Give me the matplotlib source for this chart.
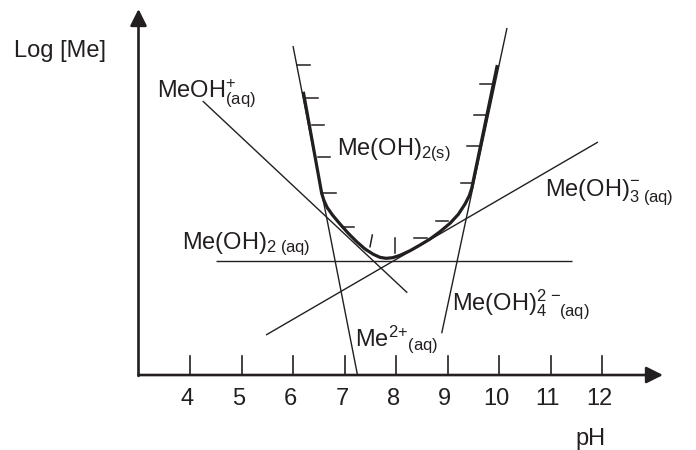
import matplotlib
matplotlib.use("Agg")
import matplotlib.pyplot as plt
import numpy as np

plt.rcParams['font.family'] = ['Liberation Sans', 'DejaVu Sans']
plt.rcParams['mathtext.fontset'] = 'custom'
plt.rcParams['mathtext.rm'] = 'Liberation Sans'
plt.rcParams['mathtext.it'] = 'Liberation Sans:italic'
plt.rcParams['mathtext.bf'] = 'Liberation Sans:bold'

# ---- data (pH, log[Me] in arbitrary units) ----
ph_ticks = [4, 5, 6, 7, 8, 9, 10, 11, 12]
tick_labels = ['4', '5', '6', '7', '8', '9', '10', '11', '12']

me2_ph = [6.00, 7.252]
me2_log = [6.388, 0.0]
meoh_ph = [4.247, 8.219]
meoh_log = [5.320, 1.598]
meoh3_ph = [5.476, 11.922]
meoh3_log = [0.777, 4.524]
meoh2aq_ph = [4.505, 11.423]
meoh2aq_log = [2.223, 2.223]
meoh4_ph = [8.887, 10.155]
meoh4_log = [0.810, 6.738]

# solubility curve of Me(OH)2(s)
sol_ph = [6.200, 6.557, 6.602, 6.666, 6.771, 6.913, 7.074, 7.237, 7.398, 7.559, 7.689,
          7.806, 7.936, 8.078, 8.272, 8.466, 8.660, 8.854, 9.049, 9.210, 9.340, 9.423,
          9.470, 9.967]
sol_log = [5.501, 3.528, 3.384, 3.249, 3.101, 2.932, 2.751, 2.588, 2.447, 2.344, 2.285,
           2.266, 2.278, 2.324, 2.414, 2.524, 2.641, 2.783, 2.946, 3.120, 3.320, 3.482,
           3.625, 6.019]

# hatch marks of the solid region
hatch_left_ph = [6.083, 6.233, 6.363, 6.480, 6.588, 6.946]
hatch_left_log = [6.019, 5.384, 4.854, 4.227, 3.534, 2.880]
hatch_right_ph = [8.596, 9.016, 9.501, 9.631, 9.748, 9.878]
hatch_right_log = [2.654, 2.996, 3.722, 4.447, 5.043, 5.645]
hatch_mid = [((7.495, 2.491), (7.540, 2.718)), ((7.981, 2.375), (7.981, 2.654))]

INK = '#231f20'
FS = 17

fig = plt.figure(figsize=(6.96, 4.50), dpi=100)
ax = fig.add_axes([0, 0, 1, 1])
ax.set_xlim(0.3107, 13.825)
ax.set_ylim(-1.456, 7.282)
ax.axis('off')

# axes with arrows
ax.annotate('', xy=(13.184, 0), xytext=(3.0, 0),
            arrowprops=dict(arrowstyle='-|>,head_length=1.0,head_width=0.5', lw=1.9,
                            color=INK, mutation_scale=10, shrinkA=0, shrinkB=0))
ax.annotate('', xy=(3.0, 7.107), xytext=(3.0, -0.018),
            arrowprops=dict(arrowstyle='-|>,head_length=1.0,head_width=0.5', lw=1.9,
                            color=INK, mutation_scale=10, shrinkA=0, shrinkB=0))
for p, lab in zip(ph_ticks, tick_labels):
    ax.plot([p, p], [0, 0.369], color=INK, lw=1.2)
    ax.text(p - 0.05, -0.466, lab, ha='center', va='center', fontsize=FS, color=INK)

# species lines
lw_thin = 1.0
for xs, ys in [(me2_ph, me2_log), (meoh_ph, meoh_log), (meoh3_ph, meoh3_log),
               (meoh2aq_ph, meoh2aq_log), (meoh4_ph, meoh4_log)]:
    ax.plot(xs, ys, color=INK, lw=lw_thin, solid_capstyle='butt')

# solubility curve
ax.plot(sol_ph, sol_log, color=INK, lw=2.3, solid_joinstyle='round', solid_capstyle='butt')

# hatching
dash = 0.243
for x, y in zip(hatch_left_ph, hatch_left_log):
    ax.plot([x, x + dash], [y, y], color=INK, lw=1.1)
for x, y in zip(hatch_right_ph, hatch_right_log):
    ax.plot([x - dash, x], [y, y], color=INK, lw=1.1)
for (a, b) in hatch_mid:
    ax.plot([a[0], b[0]], [a[1], b[1]], color=INK, lw=1.1)

# labels
tk = dict(fontsize=FS, color=INK, ha='left', va='baseline')
ax.text(0.583, 6.169, 'Log [Me]', **tk)
ax.text(3.359, 5.392, r'MeOH$^{+}_{(\mathrm{aq})}$', **tk)
ax.text(6.860, 4.272, r'Me(OH)$_{2(\mathrm{s})}$', **tk)
ax.text(10.893, 3.495, r'Me(OH)$^{-}_{3\ (\mathrm{aq})}$', **tk)
ax.text(3.839, 2.447, r'Me(OH)$_{2\ (\mathrm{aq})}$', **tk)
ax.text(9.082, 1.262, r'Me(OH)$^{2\,-}_{4\ \ \ (\mathrm{aq})}$', **tk)
ax.text(7.204, 0.563, r'Me$^{2{+}}$$_{(\mathrm{aq})}$', **tk)
ax.text(11.781, -1.25, 'pH', fontsize=FS, color=INK, ha='center', va='center')

fig.savefig('out.png', dpi=100)
